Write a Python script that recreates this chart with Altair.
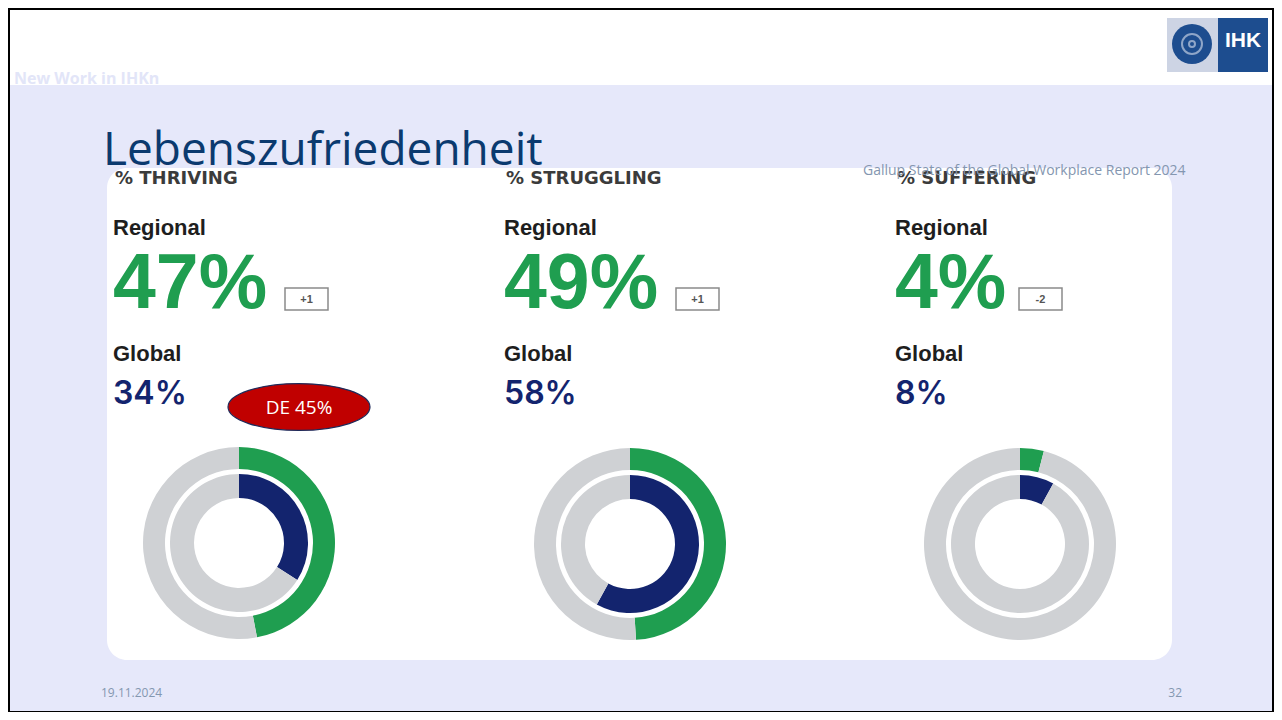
import altair as alt
import pandas as pd

# ---- data ----
categories = ["% THRIVING", "% STRUGGLING", "% SUFFERING"]
regional = [47, 49, 4]
global_vals = [34, 58, 8]
changes = ["+1", "+1", "-2"]
title_text = "Lebenszufriedenheit"
source_text = "Gallup State of the Global Workplace Report 2024"
badge_text = "DE 45%"
date_text = "19.11.2024"
page_text = "32"
header_text = "New Work in IHKn"

GREEN = "#1f9e50"
NAVY = "#13246e"
GREY = "#cfd1d4"
LAV = "#e6e8fa"
TITLE = "#0b3a6f"

W, H = 1266, 704


def X(v):
    return v - 8


def Y(v):
    return v - 8


one = alt.Data(values=[{"a": 1}])


def rect(x1, y1, x2, y2, fill, **kw):
    return alt.Chart(one).mark_rect(fill=fill, **kw).encode(
        x=alt.value(X(x1)), x2=alt.value(X(x2)), y=alt.value(Y(y1)), y2=alt.value(Y(y2))
    )


def txt(t, x, y, size, color, weight="normal", font="Liberation Sans", align="left", baseline="alphabetic"):
    return alt.Chart(one).mark_text(
        text=t, fontSize=size, color=color, fontWeight=weight, font=font,
        align=align, baseline=baseline,
    ).encode(x=alt.value(X(x)), y=alt.value(Y(y)))


def disc(cx, cy, r_out, r_in, fill):
    return alt.Chart(one).mark_arc(theta=0, theta2=6.2832, radius=r_out, radius2=r_in, fill=fill).encode(
        x=alt.value(X(cx)), y=alt.value(Y(cy)))


color_scale = alt.Scale(domain=["Regional", "Global", "Rest"], range=[GREEN, NAVY, GREY])


def ring(value, kind, cx, cy, r_out, r_in):
    df = pd.DataFrame({
        "part": [kind, "Rest"],
        "value": [value, 100 - value],
        "ord": [0, 1],
    })
    return alt.Chart(df).mark_arc(radius=r_out, radius2=r_in).encode(
        theta=alt.Theta("value:Q", stack=True, scale=alt.Scale(domain=[0, 100])),
        color=alt.Color("part:N", scale=color_scale, legend=None),
        order=alt.Order("ord:Q"),
        x=alt.value(X(cx)), y=alt.value(Y(cy)),
    )


layers = []
# backgrounds
layers.append(rect(8, 8, 1274, 712, "white"))
layers.append(rect(8, 85, 1274, 712, LAV))
layers.append(txt(header_text, 14, 84, 16, "#e2e5f8", weight="bold", font="Open Sans"))
layers.append(rect(107, 168, 1172, 660, "white", cornerRadius=20))

# logo
layers.append(rect(1167, 18, 1218, 72, "#cdd4e4"))
layers.append(rect(1218, 18, 1268, 72, "#1d4d8f"))
layers.append(txt("IHK", 1243, 47, 21, "white", weight="bold", align="center"))
layers.append(disc(1192, 44, 20, 0, "#1d4d8f"))
layers.append(disc(1192, 44, 11, 9, "#8fa6c8"))
layers.append(disc(1192, 44, 4, 2, "#8fa6c8"))

col_x = [113, 504, 895]
centers = [(239, 543), (630, 544), (1020, 544)]
for i, cat in enumerate(categories):
    x0 = col_x[i]
    layers.append(txt(cat, x0 + 2, 184, 18, "#3b3b3b", weight="bold", font="DejaVu Sans"))
    layers.append(txt("Regional", x0, 235, 22, "#1e1e1e", weight="bold"))
    layers.append(txt(f"{regional[i]}%", x0, 308, 77, GREEN, weight="bold"))
    layers.append(txt("Global", x0, 361, 22, "#1e1e1e", weight="bold"))
    layers.append(txt(f"{global_vals[i]}%", x0, 404, 32, NAVY, weight=600, font="Inter"))
    bx = [285, 676, 1019][i]
    layers.append(rect(bx, 288, bx + 43, 310, "white", stroke="#8a8a8a", strokeWidth=1.5))
    layers.append(txt(changes[i], bx + 21.5, 303, 11, "#555555", weight="bold", align="center"))
    cx, cy = centers[i]
    layers.append(ring(regional[i], "Regional", cx, cy, 96, 74))
    layers.append(ring(global_vals[i], "Global", cx, cy, 69, 45))

# title & source
layers.append(txt(title_text, 103, 165, 46, TITLE, font="Open Sans"))
layers.append(txt(source_text, 863, 175, 14, "#8496b0", font="Open Sans"))

# badge ellipse
ellipse = "M-1,0 A1,0.33 0 1,1 1,0 A1,0.33 0 1,1 -1,0 Z"
layers.append(alt.Chart(one).mark_point(
    shape=ellipse, size=142 * 142, filled=True, fill="#c00000", stroke="#1f2a5a",
    strokeWidth=1.2, opacity=1,
).encode(x=alt.value(X(299)), y=alt.value(Y(407))))
layers.append(txt(badge_text, 299, 414, 19, "white", font="Open Sans", align="center"))

# footer
layers.append(txt(date_text, 101, 697, 12, "#8497b0", font="Open Sans"))
layers.append(txt(page_text, 1182, 697, 12, "#8497b0", font="Open Sans", align="right"))

# border
layers.append(rect(9, 9, 1273, 712, "transparent", stroke="black", strokeWidth=2))

chart = alt.layer(*layers).properties(
    width=W, height=H, padding=0, autosize=alt.AutoSizeParams(type="none"),
    background="white",
).configure_view(strokeWidth=0)

chart.save("out.html", embed_options={"renderer": "svg", "actions": False})
